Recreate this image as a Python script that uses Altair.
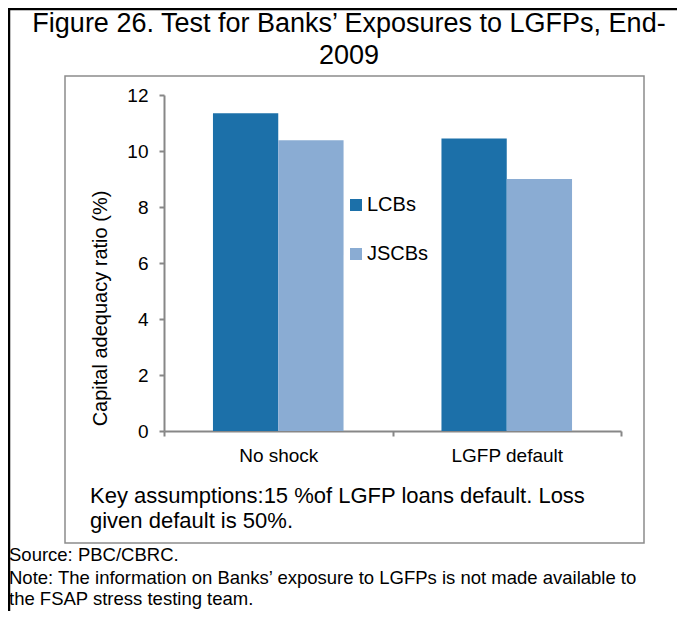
import altair as alt
import pandas as pd

# ---- data ----
categories = ["No shock", "LGFP default"]
series = ["LCBs", "JSCBs"]
lcbs = [11.35, 10.45]
jscbs = [10.38, 9.0]
y_ticks = [0, 2, 4, 6, 8, 10, 12]

title_lines = ["Figure 26. Test for Banks\u2019 Exposures to LGFPs, End-", "2009"]
key_lines = ["Key assumptions:15 %of LGFP loans default. Loss", "given default is 50%."]
note_lines = [
    "Source: PBC/CBRC.",
    "Note: The information on Banks\u2019 exposure to LGFPs is not made available to",
    "the FSAP stress testing team.",
]
colors = ["#1c70a9", "#8aacd3"]

rows = []
for i, c in enumerate(categories):
    rows.append({"cat": c, "series": series[0], "value": lcbs[i]})
    rows.append({"cat": c, "series": series[1], "value": jscbs[i]})
df = pd.DataFrame(rows)

FONT = "Liberation Sans"
W, H = 457, 336
AXIS_GRAY = "#878787"

bars = alt.Chart(df).mark_bar().encode(
    x=alt.X("cat:N", sort=categories, title=None,
            scale=alt.Scale(paddingInner=0, paddingOuter=0),
            axis=alt.Axis(labelAngle=0, labelFontSize=19, labelFont=FONT, labelColor="black",
                          domainColor=AXIS_GRAY, domainWidth=2, tickColor=AXIS_GRAY, tickWidth=2,
                          tickSize=5, tickBand="extent", labelPadding=10)),
    xOffset=alt.XOffset("series:N", sort=series,
                        scale=alt.Scale(paddingInner=0, paddingOuter=0.75)),
    y=alt.Y("value:Q", stack=None,
            scale=alt.Scale(domain=[0, 12], nice=False),
            axis=alt.Axis(values=y_ticks, grid=False, labelFontSize=19, labelFont=FONT,
                          labelColor="black", domainColor=AXIS_GRAY, domainWidth=2,
                          tickColor=AXIS_GRAY, tickWidth=2, tickSize=5, labelPadding=11,
                          title="Capital adequacy ratio  (%)", titleFont=FONT, titleFontSize=20,
                          titleFontWeight="normal", titleColor="black", titleAngle=270,
                          titleBaseline="middle", titleAlign="center", titleX=-64, titleY=213)),
    color=alt.Color("series:N", sort=series,
                    scale=alt.Scale(domain=series, range=colors),
                    legend=alt.Legend(orient="none", legendX=182, legendY=100, title=None,
                                      symbolType="square", symbolSize=144, symbolStrokeWidth=0,
                                      labelFontSize=20, labelFont=FONT, labelColor="black",
                                      rowPadding=29, labelOffset=1, direction="vertical")),
)

one = alt.Data(values=[{}])

inner_box = alt.Chart(one).mark_rect(fill=None, stroke="#8c8c8c", strokeWidth=1.5).encode(
    x=alt.value(-99), x2=alt.value(480), y=alt.value(-19), y2=alt.value(448))

top_line = alt.Chart(one).mark_rule(color="black", strokeWidth=2.5).encode(
    x=alt.value(-156), x2=alt.value(513), y=alt.value(-86))
left_line = alt.Chart(one).mark_rule(color="black", strokeWidth=2.5).encode(
    x=alt.value(-155), y=alt.value(-87), y2=alt.value(520))

def txt(s, x, y, size, align="left"):
    return alt.Chart(one).mark_text(font=FONT, fontSize=size, align=align, baseline="alphabetic",
                                    color="black").encode(
        x=alt.value(x), y=alt.value(y), text=alt.value(s))

texts = [
    txt(title_lines[0], 185, -63, 27, "center"),
    txt(title_lines[1], 185, -31, 27, "center"),
    txt(key_lines[0], -74, 408, 22),
    txt(key_lines[1], -74, 433, 22),
    txt(note_lines[0], -155, 466, 18.5),
    txt(note_lines[1], -155, 489, 18.5),
    txt(note_lines[2], -155, 510, 18.5),
]

chart = alt.layer(inner_box, bars, top_line, left_line, *texts).properties(
    width=W, height=H,
    autosize=alt.AutoSizeParams(type="none"),
    padding={"left": 156, "top": 87, "right": 56, "bottom": 180},
).configure_view(stroke=None)

chart.save("out.html", embed_options={"renderer": "svg", "actions": False})
